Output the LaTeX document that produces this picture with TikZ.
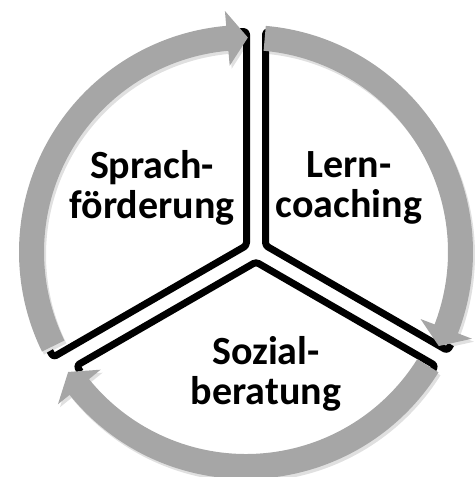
\documentclass[tikz,border=0pt]{standalone}
\usepackage{fontspec}
\setmainfont{Carlito}
\usetikzlibrary{calc}
\definecolor{ringgray}{RGB}{166,166,166}
\tikzset{
  divider/.style={line width=7pt, line join=round, rounded corners=3pt},
  cyclelabel/.style={font=\fontsize{40}{40}\selectfont\bfseries, align=center, inner sep=0pt},
}
% one gray arrow of the ring: tail angle, head base angle, tip angle
\newcommand{\cyclearrow}[3]{%
  \fill[black, opacity=0.12, xshift=2, yshift=-3] (#1:227) arc[start angle=#1, end angle=#2, radius=227]
    -- (#2:242) -- (#3:214.5) -- (#2:187) -- (#2:202)
    arc[start angle=#2, end angle=#1, radius=202] -- cycle;
  \fill[ringgray] (#1:227) arc[start angle=#1, end angle=#2, radius=227]
    -- (#2:242) -- (#3:214.5) -- (#2:187) -- (#2:202)
    arc[start angle=#2, end angle=#1, radius=202] -- cycle;}

\begin{document}
\begin{tikzpicture}[x=1pt,y=1pt]
\useasboundingbox (0,0) rectangle (475,-477);

% apexes of the three sectors
\coordinate (sL) at (246.5,-245.5);
\coordinate (sR) at (265.5,-245.5);
\coordinate (sB) at (256,-262);

\draw[divider] ($(sL)+(90:214)+(180:7)$) -- ($(sL)+(90:214)$) -- (sL) -- ($(sL)+(210:223)$) -- ++(120:7);
\draw[divider] ($(sR)+(90:214)+(0:7)$) -- ($(sR)+(90:214)$) -- (sR) -- ($(sR)+(-30:210)$) -- ++(60:7);
\draw[divider] ($(sB)+(210:207)+(300:7)$) -- ($(sB)+(210:207)$) -- (sB) -- ($(sB)+(-30:207)$) -- ++(240:7);

% ring of arrows
\begin{scope}[shift={(246,-252)}]
\cyclearrow{206}{95}{89.5}
\cyclearrow{85}{-21}{-26}
\cyclearrow{-32}{-141}{-146}
\end{scope}

\node[cyclelabel] (sprach) at (152,-188) {Sprach-\\förderung};
\node[cyclelabel] (lern) at (349,-188) {Lern-\\coaching};
\node[cyclelabel] (sozial) at (266,-374) {Sozial-\\beratung};
\end{tikzpicture}
\end{document}
